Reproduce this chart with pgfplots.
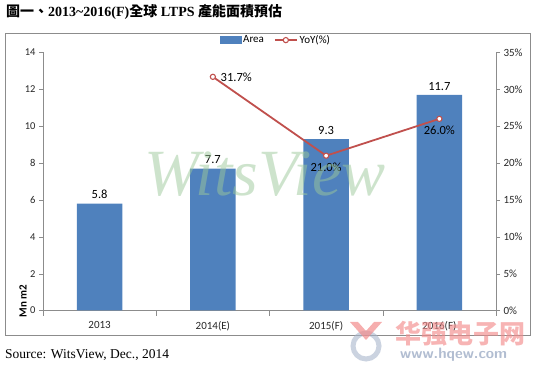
\documentclass[border=0pt]{standalone}
\usepackage{pgfplots}
\pgfplotsset{compat=1.18}
\usepackage{fontspec}
\setmainfont{Liberation Serif}
\newfontfamily\calib{Carlito}
\newfontfamily\cjktc{Noto Sans CJK TC}
\newfontfamily\cjksc{Noto Sans CJK SC}
\definecolor{barblue}{HTML}{4F81BD}
\definecolor{linered}{HTML}{C0504D}
\definecolor{axgray}{HTML}{8C8C8C}
\definecolor{wmgreen}{HTML}{9CC89A}
\definecolor{wmpink}{HTML}{F28C8C}
\definecolor{wmblue}{HTML}{A9B6CC}
\begin{document}
\begin{tikzpicture}
\useasboundingbox (0,0) rectangle (539bp,366bp);
\draw[axgray, line width=0.8bp] (5bp,31bp) rectangle (530bp,333bp);
\node[anchor=base west, inner sep=0] at (6bp,349bp)
  {\fontsize{14bp}{16bp}\selectfont\bfseries{\cjktc\bfseries 圖一、}2013\textasciitilde 2016(F){\cjktc\bfseries 全球} LTPS {\cjktc\bfseries 產能面積預估}};
\node[anchor=base west, inner sep=0] at (5bp,8bp)
  {\fontsize{13.5bp}{16bp}\selectfont Source: WitsView, Dec., 2014};
\node[rotate=90, inner sep=0] at (23bp,65bp) {\calib\bfseries\fontsize{11bp}{13bp}\selectfont Mn m2};

\begin{axis}[
  at={(43bp,55.5bp)}, anchor=south west, scale only axis,
  width=453bp, height=258bp,
  xmin=-0.5, xmax=3.5, ymin=0, ymax=14,
  axis y line*=left, axis x line*=bottom,
  axis line style={axgray, line width=0.8bp},
  xtick={0,1,2,3}, xticklabels={2013,2014(E),2015(F),2016(F)},
  minor xtick={-0.5,0.5,1.5,2.5,3.5},
  major x tick style={draw=none},
  minor x tick style={axgray},
  y tick style={axgray},
  tick align=outside, major tick length=4bp, minor tick length=5bp,
  ytick={0,2,...,14},
  /pgf/number format/assume math mode=true,
  ticklabel style={font=\calib\fontsize{10.5bp}{12bp}\selectfont, text=black!85},
  xticklabel style={font=\calib\fontsize{11bp}{13bp}\selectfont, yshift=-3bp},
  ybar, bar width=0.4,
  nodes near coords,
  nodes near coords style={font=\calib\fontsize{12.5bp}{14bp}\selectfont, text=black, yshift=1bp},
  point meta=y,
  clip=false,
]
\addplot[fill=barblue, draw=none] coordinates {(0,5.8) (1,7.7) (2,9.3) (3,11.7)};
\end{axis}

\begin{axis}[
  at={(43bp,55.5bp)}, anchor=south west, scale only axis,
  width=453bp, height=258bp,
  xmin=-0.5, xmax=3.5, ymin=0, ymax=35,
  axis y line*=right, axis x line=none,
  axis line style={axgray, line width=0.8bp},
  y tick style={axgray},
  tick align=outside, major tick length=4bp,
  ytick={0,5,...,35},
  yticklabel={\pgfmathprintnumber{\tick}\%},
  /pgf/number format/assume math mode=true,
  ticklabel style={font=\calib\fontsize{11bp}{13bp}\selectfont, text=black!85},
  clip=false,
  legend columns=2,
  legend style={at={(rel axis cs:0.514,1.048)}, anchor=center, draw=none, fill=none,
    font=\calib\fontsize{11bp}{13bp}\selectfont,
    /tikz/every even column/.append style={column sep=8bp}},
]
\addlegendimage{legend image code/.code={\fill[barblue] (0bp,-3.5bp) rectangle (21bp,3.5bp);}}
\addlegendentry{Area}
\addplot[linered, line width=1.8bp, mark=*, mark size=2.6bp,
  mark options={fill=white, draw=linered, line width=1.1bp},
  legend image code/.code={\draw[linered, line width=1.8bp] (0bp,0bp) -- (22bp,0bp);
     \draw[linered, fill=white, line width=1.1bp] (11bp,0bp) circle (2.6bp);},
  point meta=y,
  visualization depends on={value \thisrow{a} \as \anc},
  visualization depends on={\thisrow{dx} \as \dx},
  visualization depends on={\thisrow{dy} \as \dy},
  nodes near coords={\pgfmathprintnumber[fixed,fixed zerofill,precision=1]{\pgfplotspointmeta}\%},
  every node near coord/.append style={anchor=\anc, xshift=\dx bp, yshift=\dy bp,
     font=\calib\fontsize{12.5bp}{14bp}\selectfont, text=black},
] table[x=x, y=y] {
x y a dx dy
1 31.7 west 4 0
2 21.0 north 0 -3
3 26.0 north 0 -3
};
\addlegendentry{YoY(\%)}
\end{axis}

\node[text=wmgreen, opacity=0.5, inner sep=0] at (265bp,192bp)
  {\fontsize{66bp}{66bp}\selectfont\itshape WitsView};
% hqew watermark
\draw[wmblue, opacity=0.6, line width=5bp] (366bp,20bp) circle (13bp);
\fill[wmpink, opacity=0.7] (350bp,44bp) -- (366bp,26bp) -- (382bp,44bp) -- (374bp,44bp) -- (366bp,35bp) -- (358bp,44bp) -- cycle;
\node[text=wmpink, opacity=0.65, inner sep=0, anchor=west] at (395bp,32bp)
  {\cjksc\bfseries\fontsize{26bp}{28bp}\selectfont 华强电子网};
\node[text=wmblue, opacity=0.9, inner sep=0, anchor=west] at (400bp,11bp)
  {\sffamily\bfseries\fontsize{15bp}{17bp}\selectfont www.hqew.com};
\end{tikzpicture}
\end{document}
